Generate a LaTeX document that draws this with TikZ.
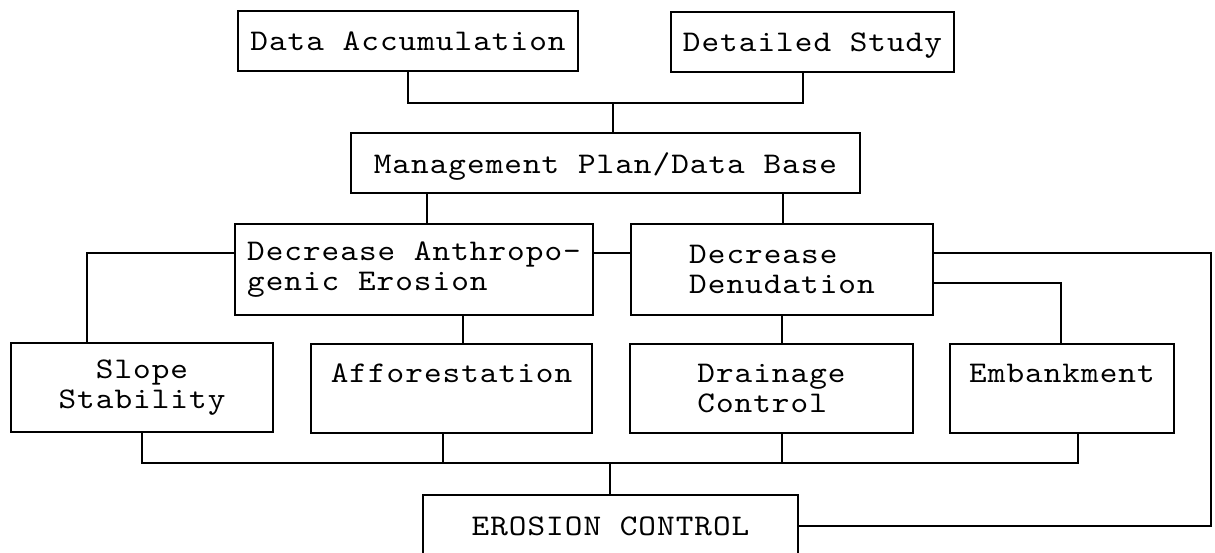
\documentclass[tikz,border=0pt]{standalone}
\usepackage{fontspec}
\newfontfamily\typer{lmmono10-regular.otf}[FakeStretch=1.12,LetterSpace=3.4]
\begin{document}
\begin{tikzpicture}[x=0.02cm,y=-0.02cm,line width=1pt,line cap=rect,
	box/.style={draw,line width=1pt,inner sep=0pt,font=\typer\fontsize{17.07}{17.07}\selectfont},
	single/.style={box,text depth=0pt}]
	\useasboundingbox (0,0) rectangle (1215,553);
	
	\node[single,minimum width=6.8cm,minimum height=1.2cm] (acc) at (408,41) {Data Accumulation};
	\node[single,minimum width=5.66cm,minimum height=1.2cm] (study) at (812.5,42) {Detailed Study};
	\node[single,minimum width=10.18cm,minimum height=1.2cm] (plan) at (605.5,163) {Management Plan/Data Base};
	\node[box,align=left,minimum width=7.16cm,minimum height=1.82cm] (anthro) at (414,269.5) {Decrease Anthropo-\\genic Erosion};
	\node[box,align=left,minimum width=6.04cm,minimum height=1.82cm] (denud) at (782,269.5) {Decrease\\Denudation};
	\node[box,align=center,minimum width=5.24cm,minimum height=1.78cm] (slope) at (142,387.5) {Slope\\Stability};
	\node[box,align=center,minimum width=5.62cm,minimum height=1.78cm] (affor) at (451.5,388.5) {Afforestation\\\mbox{}};
	\node[box,align=left,minimum width=5.66cm,minimum height=1.78cm] (drain) at (771.5,388.5) {Drainage\\Control};
	\node[box,align=center,minimum width=4.48cm,minimum height=1.78cm] (emb) at (1062,388.5) {Embankment\\\mbox{}};
	\node[single,minimum width=7.5cm,minimum height=1.24cm] (ctrl) at (610.5,526) {EROSION CONTROL};
	
	\coordinate (j1) at (613,103);
	\coordinate (j2) at (803,103);
	\coordinate (p1) at (427,193);
	\coordinate (p2) at (783,193);
	\coordinate (a1) at (87,253);
	\coordinate (a2) at (463,315);
	\coordinate (d1) at (1211,253);
	\coordinate (d2) at (1061,283);
	\coordinate (b1) at (610,463);
	\coordinate (b2) at (1078,463);
	\coordinate (b3) at (443,463);
	\coordinate (b4) at (782,463);
	
	\draw (acc.south) |- (j2) -- (study.south -| j2);
	\draw (j1) -- (plan.north -| j1);
	\draw (plan.south -| p1) -- (anthro.north -| p1);
	\draw (plan.south -| p2) -- (denud.north -| p2);
	\draw (anthro.west |- a1) -- (a1) -- (slope.north -| a1);
	\draw (anthro.east |- a1) -- (denud.west |- a1);
	\draw (anthro.south -| a2) -- (affor.north -| a2);
	\draw (denud.east |- d1) -- (d1) |- (ctrl.east);
	\draw (denud.east |- d2) -- (d2) -- (emb.north -| d2);
	\draw (denud.south) -- (drain.north -| denud.south);
	\draw (slope.south) |- (b2) -- (emb.south -| b2);
	\draw (affor.south -| b3) -- (b3);
	\draw (drain.south -| b4) -- (b4);
	\draw (b1) -- (ctrl.north -| b1);
\end{tikzpicture}
\end{document}
